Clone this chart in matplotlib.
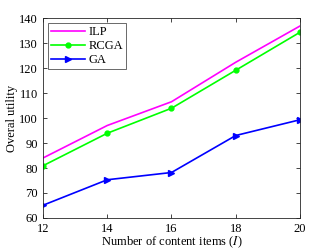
import matplotlib
matplotlib.use("Agg")
import matplotlib.pyplot as plt

x = [12, 14, 16, 18, 20]
ilp = [84.0, 97.0, 106.5, 122.3, 136.8]
rcga = [80.9, 93.9, 103.9, 119.1, 134.3]
ga = [65.1, 75.3, 78.2, 93.0, 99.3]

plt.rcParams['font.family'] = ['Liberation Serif', 'DejaVu Serif']
plt.rcParams['mathtext.fontset'] = 'stix'

fig = plt.figure(figsize=(3.32, 2.49), dpi=100)
ax = fig.add_axes([0.1295, 0.1245, 0.7741, 0.8032])

ax.plot(x, ilp, color='#FF00FF', lw=1.2, label='ILP')
ax.plot(x, rcga, color='#00FF00', lw=1.2, marker='o', ms=3.5, label='RCGA')
ax.plot(x, ga, color='#0000FF', lw=1.2, marker='>', ms=5, label='GA')

ax.set_xlim(12, 20)
ax.set_ylim(60, 140)
ax.set_xticks([12, 14, 16, 18, 20])
ax.set_yticks(range(60, 141, 10))
ax.tick_params(direction='in', labelsize=9, length=3, width=0.6, top=True, right=True, colors='#262626', labelcolor='black')
for s in ax.spines.values():
    s.set_linewidth(0.6)
    s.set_color('#262626')
ax.set_xlabel('Number of content items ($I$)', fontsize=9, labelpad=0)
ax.set_ylabel('Overal utility', fontsize=9, labelpad=1)
leg = ax.legend(loc='upper left', fontsize=9, fancybox=False, edgecolor='#262626',
                handlelength=2.7, borderaxespad=0.4, labelspacing=0.15, borderpad=0.25, handletextpad=0.3)
leg.get_frame().set_linewidth(0.6)

fig.savefig('out.png', dpi=100)
